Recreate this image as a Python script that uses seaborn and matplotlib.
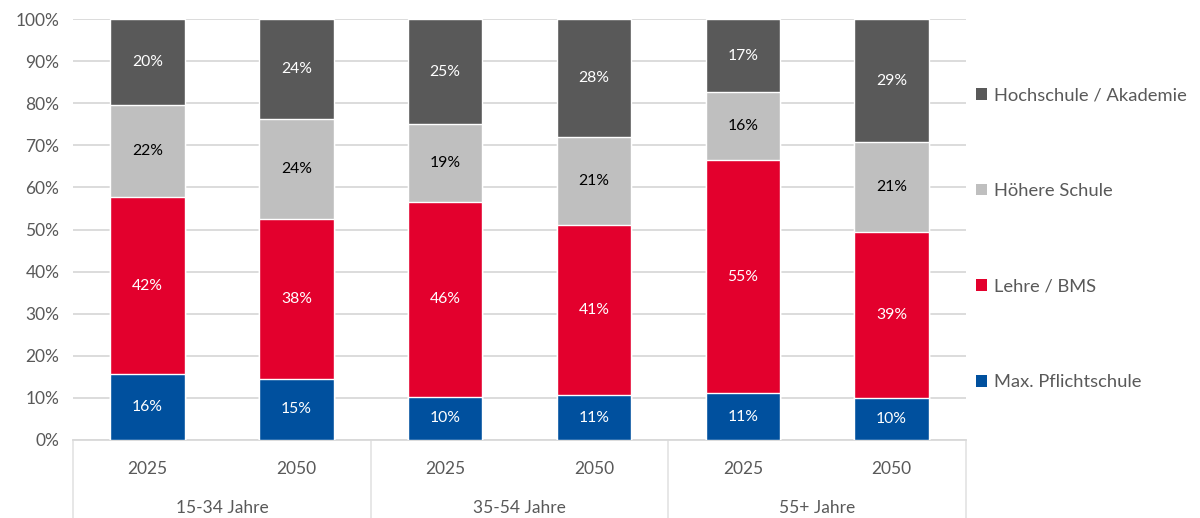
import numpy as np
import pandas as pd
import matplotlib
matplotlib.use("Agg")
import matplotlib.pyplot as plt
import seaborn as sns
from matplotlib.patches import Patch

# data (shares in %)
groups = ["15-34 Jahre", "35-54 Jahre", "55+ Jahre"]
years = ["2025", "2050"]
pflicht = [15.6, 14.6, 10.3, 10.6, 11.1, 10.0]
lehre = [42.1, 37.8, 46.2, 40.6, 55.4, 39.4]
hoehere = [21.9, 23.9, 18.6, 20.9, 16.1, 21.4]
hochschule = [20.4, 23.7, 24.9, 27.9, 17.4, 29.2]

series_names = ["Max. Pflichtschule", "Lehre / BMS", "Höhere Schule", "Hochschule / Akademie"]
colors = ["#00509E", "#E3002D", "#BFBFBF", "#595959"]
text_colors = ["white", "white", "black", "white"]

sns.set_style("white")
plt.rcParams["font.family"] = ["Lato", "DejaVu Sans"]

bars = [f"{g} {y}" for g in groups for y in years]
df = pd.DataFrame({"bar": bars, "p": pflicht, "l": lehre, "h": hoehere, "a": hochschule})
vals = df[["p", "l", "h", "a"]].to_numpy()
cum = vals.cumsum(axis=1)
for i, c in enumerate(["c1", "c2", "c3", "c4"]):
    df[c] = cum[:, i]

fig, ax = plt.subplots(figsize=(12, 5.18), dpi=100)
fig.subplots_adjust(left=0.061, right=0.805, top=0.963, bottom=0.1506)

# draw cumulative layers from the top down so each overlays the one behind
for col, color in zip(["c4", "c3", "c2", "c1"], colors[::-1]):
    sns.barplot(data=df, x="bar", y=col, color=color, width=0.5, ax=ax,
                saturation=1, order=bars, zorder=3)

# segment labels
for i in range(len(bars)):
    bottom = 0
    for j in range(4):
        v = vals[i, j]
        ax.text(i, bottom + v / 2, f"{v:.0f}%", ha="center", va="center",
                fontsize=11.3, color=text_colors[j], zorder=5)
        bottom += v

ax.set_ylim(0, 100)
ax.set_xlim(-0.5, len(bars) - 0.5)
ax.set_yticks(np.arange(0, 101, 10))
ax.set_yticklabels([f"{t}%" for t in range(0, 101, 10)])
ax.yaxis.grid(True, color="#D9D9D9", lw=1.3, zorder=0)
ax.set_axisbelow(True)
ax.tick_params(axis="y", length=6, color="#D9D9D9", labelsize=12.5, labelcolor="#595959", pad=4)
ax.tick_params(axis="x", length=0, labelsize=12.5, labelcolor="#595959", pad=15)
ax.set_xticks(range(len(bars)))
ax.set_xticklabels(years * len(groups))
ax.set_xlabel("")
ax.set_ylabel("")
for s in ["top", "right", "left"]:
    ax.spines[s].set_visible(False)
ax.spines["bottom"].set_color("#D9D9D9")
ax.spines["bottom"].set_linewidth(1.3)

# group separators and group labels
trans = ax.get_xaxis_transform()
for xs in [-0.5, 1.5, 3.5, 5.5]:
    ax.plot([xs, xs], [0, -0.19], transform=trans, color="#E3E3E3", lw=1.2, clip_on=False)
for k, g in enumerate(groups):
    ax.text(2 * k + 0.5, -0.162, g, transform=trans, ha="center", va="center",
            fontsize=12.5, color="#595959")

handles = [Patch(facecolor=c, edgecolor="none") for c in colors]
ax.legend(handles[::-1], series_names[::-1], loc="center left", bbox_to_anchor=(0.993, 0.478),
          frameon=False, fontsize=13.2, labelcolor="#595959", handlelength=0.6,
          handleheight=0.6, handletextpad=0.35, labelspacing=4.35)

fig.savefig("out.png", dpi=100)
